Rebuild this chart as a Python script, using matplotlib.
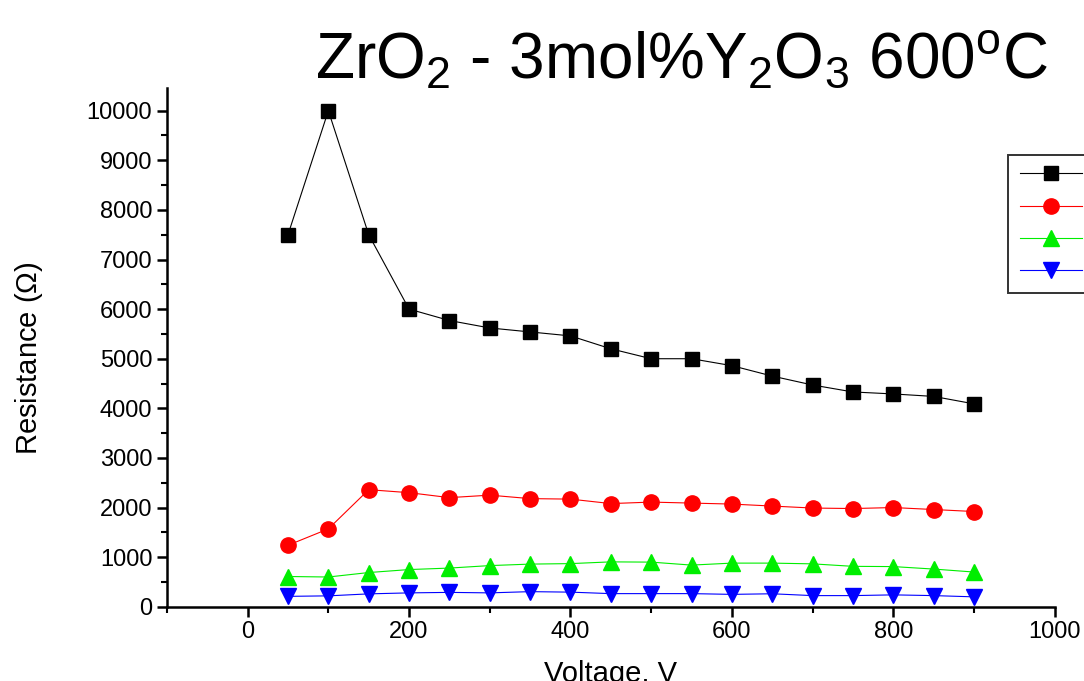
import numpy as np
import matplotlib.pyplot as plt
from matplotlib.ticker import MultipleLocator

plt.close('all')
plt.rcParams['font.family'] = ['Liberation Sans', 'DejaVu Sans']
plt.rcParams['mathtext.fontset'] = 'custom'
plt.rcParams['mathtext.rm'] = 'Liberation Sans'
plt.rcParams['mathtext.it'] = 'Liberation Sans:italic'

voltage = [50, 100, 150, 200, 250, 300, 350, 400, 450, 500,
           550, 600, 650, 700, 750, 800, 850, 900]
r_black = [7500, 10000, 7500, 6000, 5770, 5620, 5540, 5460, 5200, 5000,
           5000, 4860, 4650, 4470, 4330, 4290, 4240, 4090]
r_red = [1240, 1570, 2360, 2300, 2200, 2250, 2180, 2170, 2080, 2110,
         2090, 2070, 2030, 1990, 1980, 2000, 1960, 1920]
r_green = [610, 600, 690, 750, 780, 830, 860, 870, 905, 900,
           840, 880, 880, 865, 815, 810, 760, 700]
r_blue = [210, 220, 260, 280, 290, 280, 305, 295, 265, 265,
          265, 250, 262, 225, 225, 240, 225, 200]
labels = ['Sample 1', 'Sample 2', 'Sample 3', 'Sample 4']

fig = plt.figure(figsize=(10.84, 6.81), dpi=100)
ax = fig.add_axes([0.154, 0.109, 0.819, 0.762])

ax.plot(voltage, r_black, '-s', color='black', lw=0.8, ms=10, label=labels[0])
ax.plot(voltage, r_red, '-o', color='#ff0000', lw=0.8, ms=11, label=labels[1])
ax.plot(voltage, r_green, '-^', color='#00ee00', lw=0.8, ms=11, label=labels[2])
ax.plot(voltage, r_blue, '-v', color='#0000ff', lw=0.8, ms=11, label=labels[3])

ax.set_xlim(-100, 1000)
ax.set_ylim(0, 10460)
ax.xaxis.set_major_locator(MultipleLocator(200))
ax.xaxis.set_minor_locator(MultipleLocator(100))
ax.yaxis.set_major_locator(MultipleLocator(1000))
ax.yaxis.set_minor_locator(MultipleLocator(500))
ax.spines['top'].set_visible(False)
ax.spines['right'].set_visible(False)
ax.spines['left'].set_linewidth(1.8)
ax.spines['bottom'].set_linewidth(1.8)
ax.tick_params(which='major', direction='out', length=7, width=1.8, labelsize=17)
ax.tick_params(which='minor', direction='out', length=4, width=1.5)

ax.set_xlabel('Voltage, V', fontsize=21, labelpad=12)
ax.set_ylabel('Resistance ($\\Omega$)', fontsize=21)
ax.yaxis.set_label_coords(-0.137, 0.48)

fig.text(0.629, 1 - 78 / 681, 'ZrO$_2$ - 3mol%Y$_2$O$_3$ 600$^\\mathrm{o}$C',
         fontsize=46, ha='center', va='baseline')

leg = ax.legend(loc='upper left', bbox_to_anchor=(1008 / 1084, 1 - 155 / 681),
                bbox_transform=fig.transFigure, frameon=True, fancybox=False,
                edgecolor='black', fontsize=14, handlelength=3.2,
                labelspacing=0.75, borderpad=0.6, borderaxespad=0)
leg.get_frame().set_linewidth(1.4)

fig.savefig('out.png', dpi=100)
